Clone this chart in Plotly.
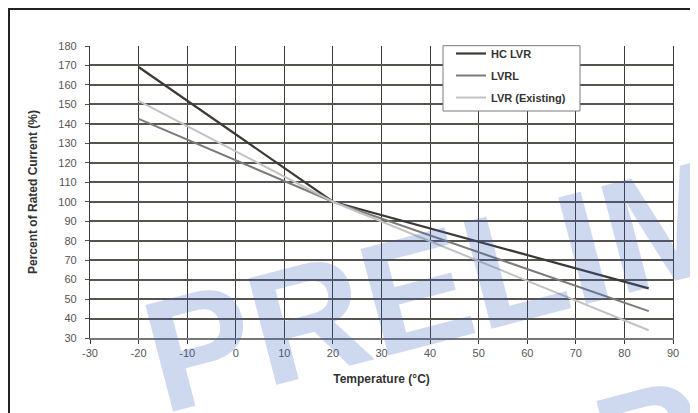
import plotly.graph_objects as go

# ---- data ----
temperature = [-20, 20, 85]
hc_lvr = [169.2, 100, 55.5]
lvrl = [142.6, 100, 43.8]
lvr_existing = [151.8, 100, 34.0]

series_names = ["HC LVR", "LVRL", "LVR (Existing)"]
x_ticks = list(range(-30, 91, 10))
y_ticks = list(range(30, 181, 10))

x_title = "Temperature (°C)"
y_title = "Percent of Rated Current (%)"
watermark = "PRELIMINARY"

FONT = "Liberation Sans, Arial, sans-serif"

fig = go.Figure()
colors = ["#3b3835", "#7d7b79", "#c2c2c2"]
widths = [2.2, 2.0, 2.0]
for i, (name, ys) in enumerate(zip(series_names, [hc_lvr, lvrl, lvr_existing])):
    fig.add_trace(go.Scatter(
        x=temperature, y=ys, mode="lines", name=name,
        legendgroup=name,
        line=dict(color=colors[i], width=widths[i]),
    ))

# page offset (body margin) and figure geometry
OFF = 8
W, H = 698 - OFF, 413 - OFF
L, T = 82, 38
R = W - L - 583
B = H - T - 292
pw, ph = W - L - R, H - T - B

def px_to_paper(px, py):
    """page pixel -> paper coords"""
    fx, fy = px - OFF, py - OFF
    return (fx - L) / pw, (H - B - fy) / ph

annotations = []
for cx, cy in [(679, 222), (1130, 318)]:
    ax_, ay_ = px_to_paper(cx, cy)
    annotations.append(dict(
        text=watermark, x=ax_, y=ay_, xref="paper", yref="paper",
        showarrow=False, textangle=-14.6,
        font=dict(family=FONT, size=160, color="rgba(60,100,190,0.25)", weight="bold"),
        xanchor="center", yanchor="middle",
    ))

fx0, fy0 = px_to_paper(9, 9)
fx1, fy1 = px_to_paper(760, 470)
lx0, ly0 = px_to_paper(443, 45.7)
lx1, ly1 = px_to_paper(580, 111)
shapes = [
    dict(type="rect", xref="paper", yref="paper",
         x0=fx0, x1=fx1, y0=fy1, y1=fy0,
         line=dict(color="#222222", width=2), layer="above"),
    dict(type="rect", xref="paper", yref="paper",
         x0=lx0, x1=lx1, y0=ly1, y1=ly0,
         fillcolor="white", line=dict(color="#7a7a7a", width=1), layer="above"),
]

leg_x, leg_y = px_to_paper(451, 39)

fig.update_layout(
    width=W, height=H,
    margin=dict(l=L, r=R, t=T, b=B, pad=0),
    paper_bgcolor="white", plot_bgcolor="white",
    font=dict(family=FONT, size=11, color="#555555"),
    showlegend=True,
    legend=dict(
        x=leg_x, xanchor="left", y=leg_y, yanchor="top",
        bgcolor="rgba(0,0,0,0)", borderwidth=0,
        font=dict(family=FONT, size=11, color="#333333", weight="bold"),
        tracegroupgap=3,
    ),
    annotations=annotations,
    shapes=shapes,
)

fig.update_xaxes(
    range=[-30, 90], tickvals=x_ticks, ticktext=[str(v) for v in x_ticks],
    showgrid=True, gridcolor="#3d3a36", gridwidth=1.3,
    showline=True, linecolor="#777777", linewidth=2,
    ticks="outside", ticklen=4, tickcolor="#3d3a36", tickwidth=1.3,
    zeroline=False,
    title=dict(text=x_title, font=dict(family=FONT, size=12, color="#333333", weight="bold"), standoff=16),
    tickfont=dict(family=FONT, size=11, color="#555555"),
)
fig.update_yaxes(
    range=[30, 180], tickvals=y_ticks, ticktext=[str(v) for v in y_ticks],
    showgrid=True, gridcolor="#57534e", gridwidth=1.5,
    showline=True, linecolor="#3d3a36", linewidth=1.3, mirror=True,
    ticks="outside", ticklen=4, tickcolor="#57534e", tickwidth=1.3,
    zeroline=False, ticklabelstandoff=6,
    title=dict(text=y_title, font=dict(family=FONT, size=12, color="#333333", weight="bold"), standoff=18),
    tickfont=dict(family=FONT, size=11, color="#555555"),
)

fig.write_html("out.html")
